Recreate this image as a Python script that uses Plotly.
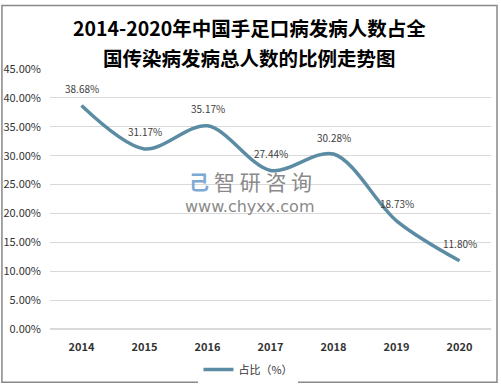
import plotly.graph_objects as go

years = ["2014", "2015", "2016", "2017", "2018", "2019", "2020"]
share = [38.68, 31.17, 35.17, 27.44, 30.28, 18.73, 11.80]
labels = ["38.68%", "31.17%", "35.17%", "27.44%", "30.28%", "18.73%", "11.80%"]
y_ticks = [0, 5, 10, 15, 20, 25, 30, 35, 40, 45]
y_tick_text = ["0.00%", "5.00%", "10.00%", "15.00%", "20.00%", "25.00%", "30.00%", "35.00%", "40.00%", "45.00%"]
title_line1 = "<b>2014-2020年中国手足口病发病人数占全</b>"
title_line2 = "<b>国传染病发病总人数的比例走势图</b>"

fig = go.Figure()
fig.add_trace(go.Scatter(
    x=years, y=share, mode="lines", name="占比（%）", showlegend=True,
    line=dict(color="#5b8ca4", width=3.5, shape="spline", smoothing=0.9),
))

title_font = dict(size=19.5, color="#000000", family="Noto Sans CJK SC")
annotations = [
    dict(text=title_line1, x=0.4535, y=1.158, xref="paper", yref="paper", showarrow=False,
         xanchor="center", yanchor="middle", font=title_font),
    dict(text=title_line2, x=0.4535, y=1.046, xref="paper", yref="paper", showarrow=False,
         xanchor="center", yanchor="middle", font=title_font),
    dict(text="智 研 咨 询", x=0.483, y=0.569, xref="paper", yref="paper", showarrow=False,
         font=dict(size=21, color="#8a8a8a", family="Noto Sans CJK SC")),
    dict(text="<b>己</b>", x=0.31, y=0.569, xref="paper", yref="paper", showarrow=False,
         font=dict(size=20, color="#7ea9d4", family="Noto Sans CJK SC")),
    dict(text="www.chyxx.com", x=0.4535, y=0.47, xref="paper", yref="paper", showarrow=False,
         font=dict(size=16, color="#8a8a8a", family="DejaVu Sans")),
]
for i, (v, t) in enumerate(zip(share, labels)):
    annotations.append(dict(text=t, x=i, y=v, xref="x", yref="y", showarrow=False,
                            yshift=17, font=dict(size=10, color="#404040", family="Noto Sans CJK SC")))

fig.update_layout(
    width=501, height=387,
    margin=dict(l=50, r=10, t=69, b=58, autoexpand=False),
    paper_bgcolor="white", plot_bgcolor="white",
    xaxis=dict(type="category", range=[-0.5, 6.5], showgrid=False, showline=False, ticks="",
               automargin=False, ticklabelstandoff=10,
               tickfont=dict(size=11, color="#333333", family="Noto Sans CJK SC"),
               tickprefix="<b>", ticksuffix="</b>"),
    yaxis=dict(range=[0, 45], tickvals=y_ticks, ticktext=y_tick_text, showgrid=True,
               gridcolor="#d9d9d9", gridwidth=1, zeroline=True, zerolinecolor="#d9d9d9",
               showline=False, automargin=False, ticklabelstandoff=8,
               tickfont=dict(size=11, color="#333333", family="Noto Sans CJK SC")),
    showlegend=True,
    legend=dict(orientation="h", x=0.45, xanchor="center", y=-0.1, yanchor="top",
                font=dict(size=11, color="#333333", family="Noto Sans CJK SC")),
    shapes=[dict(type="rect", xref="paper", yref="paper", x0=-0.109, x1=1.0136, y0=-0.205, y1=1.244,
                 line=dict(color="#888888", width=1.5))],
    annotations=annotations,
)

fig.write_html("out.html", config={"displayModeBar": False},
               post_script="document.body.style.margin='0';")
